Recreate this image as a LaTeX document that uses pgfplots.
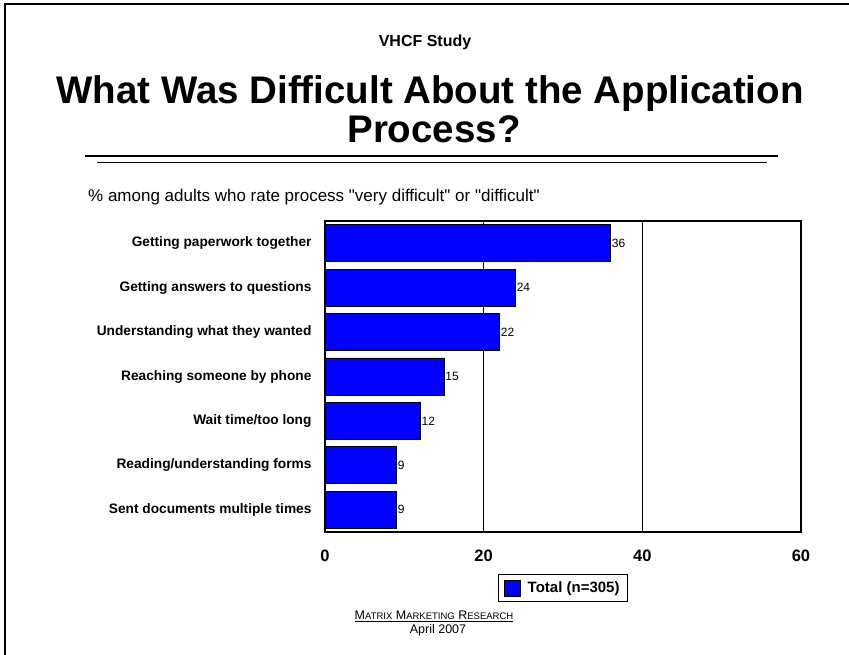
\documentclass[border=0pt]{standalone}
\usepackage{pgfplots}
\pgfplotsset{compat=1.18}
\usepackage{fontspec}
\setmainfont{Liberation Sans}[Ligatures=TeXOff]
\definecolor{barblue}{RGB}{0,0,255}
\begin{document}
\begin{tikzpicture}[x=1pt,y=1pt]
\path[use as bounding box] (0,0) rectangle (849,655);
\draw[line width=2pt] (5,-10) -- (5,651) -- (870,651);
\node[font=\fontsize{16}{19}\bfseries\selectfont, anchor=base] at (425,608) {VHCF Study};
\node[font=\fontsize{38.5}{44}\bfseries\selectfont, anchor=base] at (430,551) {What Was Difficult About the Application};
\node[font=\fontsize{38.5}{44}\bfseries\selectfont, anchor=base] at (434,512) {Process?};
\draw[line width=2.5pt] (85,499) -- (778,499);
\draw[line width=1pt] (97,492) -- (767,492);
\node[font=\fontsize{17}{20}\selectfont, anchor=base west, inner sep=0pt] at (88,453) {\% among adults who rate process "very difficult" or "difficult"};
\begin{axis}[
  at={(325pt,123pt)}, anchor=south west,
  scale only axis, width=476pt, height=311pt,
  xmin=0, xmax=60, ymin=-0.5, ymax=6.5,
  xtick={0,20,40,60},
  ytick={0,1,2,3,4,5,6},
  yticklabels={Sent documents multiple times,Reading/understanding forms,Wait time/too long,Reaching someone by phone,Understanding what they wanted,Getting answers to questions,Getting paperwork together},
  /pgf/number format/assume math mode=true,
  xticklabel style={font=\fontsize{16.5}{19}\bfseries\selectfont, yshift=-14pt},
  yticklabel style={font=\fontsize{13.7}{16}\bfseries\selectfont, xshift=-10pt},
  major tick length=0pt,
  xmajorgrids,
  grid style={black, line width=0.8pt},
  axis line style={black, line width=1.2pt},
  xbar, bar width=37pt,
  nodes near coords,
  nodes near coords style={font=\fontsize{12}{14}\selectfont, anchor=west, inner xsep=1pt, black},
  legend style={at={(0.5,-0.18)}, anchor=center, draw=black, line width=0.8pt, font=\fontsize{15}{18}\bfseries\selectfont, inner xsep=6pt, inner ysep=5pt},
  legend image code/.code={\path[draw=none, fill=none] (0pt,0pt) -- (21pt,0pt); \draw[fill=barblue, draw=black, line width=0.6pt] (0pt,-8pt) rectangle (16pt,8pt);},
]
\addplot[fill=barblue, draw=black, line width=0.8pt] coordinates {(9,0) (9,1) (12,2) (15,3) (22,4) (24,5) (36,6)};
\addlegendentry{Total (n=305)}
\end{axis}
\node[font=\fontsize{12.5}{15}\selectfont] at (434,39) {\underline{M{\fontsize{9.5}{11}\selectfont ATRIX} M{\fontsize{9.5}{11}\selectfont ARKETING} R{\fontsize{9.5}{11}\selectfont ESEARCH}}};
\node[font=\fontsize{12.5}{15}\selectfont] at (438,25) {April 2007};
\end{tikzpicture}
\end{document}
